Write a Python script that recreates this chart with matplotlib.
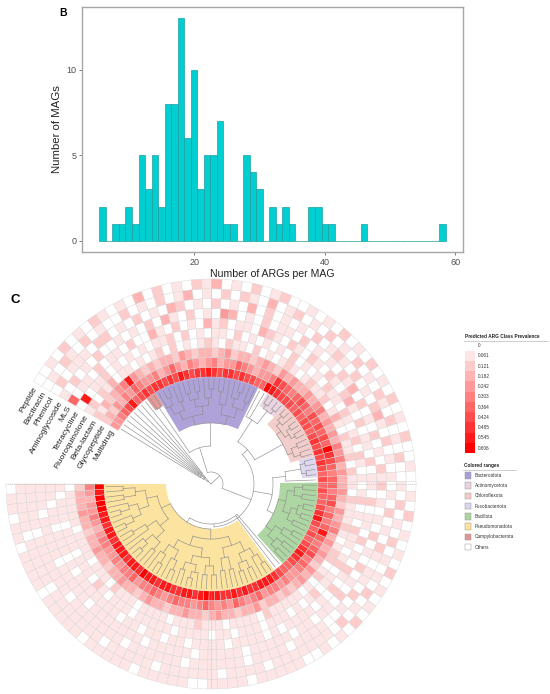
import numpy as np
import matplotlib
matplotlib.use('Agg')
import matplotlib.pyplot as plt
from matplotlib.patches import Wedge, Rectangle

plt.rcParams['font.family'] = ['Liberation Sans', 'DejaVu Sans']

# ---------------- panel B : histogram of ARGs per MAG
arg_bins = list(range(6, 59))
mag_counts = [2, 0, 1, 1, 2, 1, 5, 3, 5, 2,
              8, 8, 13, 6, 10, 3, 5, 5, 7, 1,
              1, 0, 5, 4, 3, 0, 2, 1, 2, 1,
              0, 0, 2, 2, 1, 1, 0, 0, 0, 0,
              1, 0, 0, 0, 0, 0, 0, 0, 0, 0,
              0, 0, 1]

# ---------------- panel C : circular heatmap
ring_names = ['Multidrug', 'Glycopeptide', 'Beta-lactam', 'Fluoroquinolone', 'Tetracycline',
              'MLS', 'Aminoglycoside', 'Phenicol', 'Bacitracin', 'Peptide']  # inner -> outer

clade_names = ['Others', 'Campylobacterota', 'Bacteroidota', 'Others', 'Actinomycetota',
               'Chloroflexota', 'Fusobacteriota', 'Others', 'Bacillota', 'Others', 'Pseudomonadota']
clade_sizes = [8, 2, 20, 2, 4, 11, 4, 1, 17, 2, 44]

# prevalence level per MAG (0..10, 'a' = 10), one string per ring, clade segments in tree order
ring_levels = [
    '44567967' '87' '88787987889878878776' '6a' '9877' '76767767878' '7876' '7' '67667897676789876' '67'
    '8999889898' '899a989988' '99899a8998' '999899899a' 'aa9a',
    '23243546' '54' '45346435434534465434' '45' '8765' '6765767676a' '8765' '6' '65675656965675654' '45'
    '4554654564' '5456545565' '4565546554' '5445543454' '4345',
    '21323459' '43' '23233243233234233234' '32' '4343' '34345343435' '4534' '3' '34324345343432434' '32'
    '3233243323' '3432334332' '3343233433' '2334332334' '3332',
    '12021301' '10' '10120201012102110201' '01' '2101' '21120131021' '1202' '1' '10211121012201201' '01'
    '1111201111' '0111211101' '1110111201' '1101111011' '1110',
    '09011201' '01' '01011202010110201010' '10' '2010' '10211021012' '0210' '1' '01201021101201102' '10'
    '1011101110' '1101111011' '1110111012' '0111011101' '1101',
    '60110201' '10' '20031020103120110321' '02' '1021' '02102310201' '1020' '1' '10201102010210201' '01'
    '1110101111' '0111101101' '1011011111' '1101011101' '1011',
    '10201020' '01' '01020310201043010201' '10' '2010' '10213020102' '0102' '1' '20101020102010201' '10'
    '1101111101' '1111011111' '0111111101' '1111011111' '0111',
    '02011102' '20' '10201032010201030201' '01' '0201' '21020102310' '2010' '1' '01020102101102010' '01'
    '1110111101' '1111101111' '1101111111' '0111111101' '1111',
    '01021020' '10' '02010201301020210301' '20' '1020' '10201021020' '1020' '0' '10201020101020102' '01'
    '1111110111' '1011111101' '1111011111' '1101111101' '1111',
    '00102010' '21' '01030201021301020120' '01' '0102' '01020102010' '2001' '0' '01020101020101020' '10'
    '1001111101' '1110011111' '0111110111' '1101111011' '0110',
]

prev_labels = ['0', '0.061', '0.121', '0.182', '0.242', '0.303', '0.364', '0.424', '0.485', '0.545', '0.606']
range_names = ['Bacteroidota', 'Actinomycetota', 'Chloroflexota', 'Fusobacteriota', 'Bacillota',
               'Pseudomonadota', 'Campylobacterota', 'Others']
range_colors = {'Bacteroidota': '#aa9dd7', 'Actinomycetota': '#e8d3e0', 'Chloroflexota': '#f3cbc8',
                'Fusobacteriota': '#ddd5ef', 'Bacillota': '#a9d49d', 'Pseudomonadota': '#fde29b',
                'Campylobacterota': '#e39494', 'Others': '#ffffff'}


def level_color(k):
    return (1.0, 1.0 - k / 10.0, 1.0 - k / 10.0)


fig = plt.figure(figsize=(5.5, 6.94), dpi=100)

# ---- full figure canvas in pixel units (y up) for panel C
ax = fig.add_axes([0, 0, 1, 1])
ax.set_xlim(0, 550)
ax.set_ylim(0, 694)
ax.axis('off')

cx, cy = 211, 694 - 484
R_IN, RW = 107, 9.8
n_leaf = sum(clade_sizes)
start, span = 150.0, 330.0
w = span / n_leaf
R_TIP = 105


def leaf_ang(i):
    return start - (i + 0.5) * w


# heatmap cells
for k, s in enumerate(ring_levels):
    assert len(s) == n_leaf, (k, len(s))
    r_out = R_IN + (k + 1) * RW
    for i, ch in enumerate(s):
        lev = int(ch, 16)
        ax.add_patch(Wedge((cx, cy), r_out, start - (i + 1) * w, start - i * w, width=RW,
                           facecolor=level_color(lev), edgecolor='#d6d6d6', lw=0.3))

# dashed guide lines through the rings
for a in [0, 90, -90, 180]:
    t = np.radians(a)
    ax.plot([cx + R_IN * np.cos(t), cx + (R_IN + 10 * RW) * np.cos(t)],
            [cy + R_IN * np.sin(t), cy + (R_IN + 10 * RW) * np.sin(t)],
            color='#b5b5b5', lw=0.4, ls=(0, (2, 1.5)))

# ring labels in the gap
for k, name in enumerate(ring_names):
    r = R_IN + (k + 0.5) * RW
    t = np.radians(start + 1.2)
    ax.text(cx + r * np.cos(t), cy + r * np.sin(t), name, rotation=start - 90,
            rotation_mode='anchor', ha='right', va='center', fontsize=6, color='#222222')

# clade highlights
clade_lo = np.cumsum([0] + clade_sizes[:-1])
clade_root_r = {'Campylobacterota': 92, 'Bacteroidota': 61, 'Actinomycetota': 92, 'Chloroflexota': 82,
                'Fusobacteriota': 91, 'Bacillota': 69, 'Pseudomonadota': 45}
for name, lo, n in zip(clade_names, clade_lo, clade_sizes):
    if name == 'Others':
        continue
    r0 = clade_root_r[name]
    ax.add_patch(Wedge((cx, cy), R_IN, start - (lo + n) * w, start - lo * w, width=R_IN - r0,
                       facecolor=range_colors[name], edgecolor='none', alpha=0.95))


# tree
def make(r, kids):
    angs = [kd['a'] for kd in kids]
    return {'a': (max(angs) + min(angs)) / 2, 'r': r, 'kids': kids}


def leaf(i):
    return {'a': leaf_ang(i), 'r': R_TIP, 'kids': []}


def subtree(lo, hi, r, r_max, depth=0):
    n = hi - lo
    if n == 1:
        return leaf(lo)
    frac = 0.42 if depth % 2 else 0.6
    m = lo + min(n - 1, max(1, int(round(n * frac))))
    step = (r_max - r) / max(1.0, np.log2(n))
    kids = [subtree(a, b, r + step, r_max, depth + 1) for a, b in ((lo, m), (m, hi))]
    return make(r, kids)


def draw(node):
    if not node['kids']:
        return
    angs = [kd['a'] for kd in node['kids']]
    t = np.radians(np.linspace(min(angs), max(angs), 40))
    ax.plot(cx + node['r'] * np.cos(t), cy + node['r'] * np.sin(t), color='#8f8f8f', lw=0.45)
    for kd in node['kids']:
        t = np.radians(kd['a'])
        ax.plot([cx + node['r'] * np.cos(t), cx + kd['r'] * np.cos(t)],
                [cy + node['r'] * np.sin(t), cy + kd['r'] * np.sin(t)], color='#8f8f8f', lw=0.45)
        draw(kd)


othA = subtree(0, 8, 4, 18)
n_bact = make(38, [subtree(8, 10, 92, 100), subtree(10, 30, 61, 100)])
n_act = make(76, [leaf(30), leaf(31), subtree(32, 36, 92, 101)])
n_top = make(50, [n_act, subtree(36, 47, 82, 101)])
n_fu = make(75, [subtree(47, 51, 91, 101), leaf(51)])
n_fb = make(62, [n_fu, subtree(52, 69, 69, 100)])
n_ps = make(40, [leaf(69), leaf(70), subtree(71, 115, 45, 100)])
n_rest = make(43, [n_top, n_fb, n_ps])
root = make(0, [othA, make(12, [n_bact, n_rest])])
draw(root)

# legends
txt = '#333333'
ax.text(465, 694 - 336, 'Predicted ARG Class Prevalence', fontsize=3.4, fontweight='bold',
        ha='left', va='center', color='#222222')
ax.plot([464, 548], [694 - 340.5, 694 - 340.5], color='#bbbbbb', lw=0.5)
for k, lab in enumerate(prev_labels):
    yc = 694 - (345.7 + k * 10.23)
    ax.add_patch(Rectangle((465, yc - 5.1), 9.5, 10.23, facecolor=level_color(k), edgecolor='none'))
    ax.text(477.5, yc, lab, fontsize=3.4, ha='left', va='center', color=txt)

ax.text(464, 694 - 465, 'Colored ranges', fontsize=3.4, fontweight='bold',
        ha='left', va='center', color='#222222')
ax.plot([463, 516], [694 - 469.5, 694 - 469.5], color='#bbbbbb', lw=0.5)
for k, name in enumerate(range_names):
    yc = 694 - (475.3 + k * 10.25)
    ax.add_patch(Rectangle((464.5, yc - 3.3), 6.6, 6.6, facecolor=range_colors[name],
                           edgecolor='#9a9a9a', lw=0.35))
    ax.text(474.5, yc, name, fontsize=3.4, ha='left', va='center', color=txt)

ax.text(15, 694 - 300, 'C', fontsize=9.5, fontweight='bold', ha='center', va='center')
ax.text(63, 694 - 13, 'B', fontsize=7.5, fontweight='bold', ha='center', va='center')

# ---- panel B axes
axb = fig.add_axes([82 / 550, 1 - 252 / 694, (463 - 82) / 550, (252 - 7) / 694])
axb.bar(arg_bins, mag_counts, width=1.0, color='#00ced1', edgecolor='#1f9ea0', lw=0.5)
axb.set_xlim(2.85, 61.15)
axb.set_ylim(-0.65, 13.65)
axb.set_xticks([20, 40, 60])
axb.set_yticks([0, 5, 10])
for sp in axb.spines.values():
    sp.set_color('#a6a6a6')
    sp.set_linewidth(1.0)
axb.tick_params(length=2.5, width=0.6, color='#666666', labelsize=6.5, labelcolor='#4d4d4d', pad=1.5)
axb.set_xlabel('Number of ARGs per MAG', fontsize=7.6, labelpad=1.5, color='#222222')
axb.set_ylabel('Number of MAGs', fontsize=8.2, labelpad=3, color='#222222')

fig.savefig('out.png', dpi=100)
